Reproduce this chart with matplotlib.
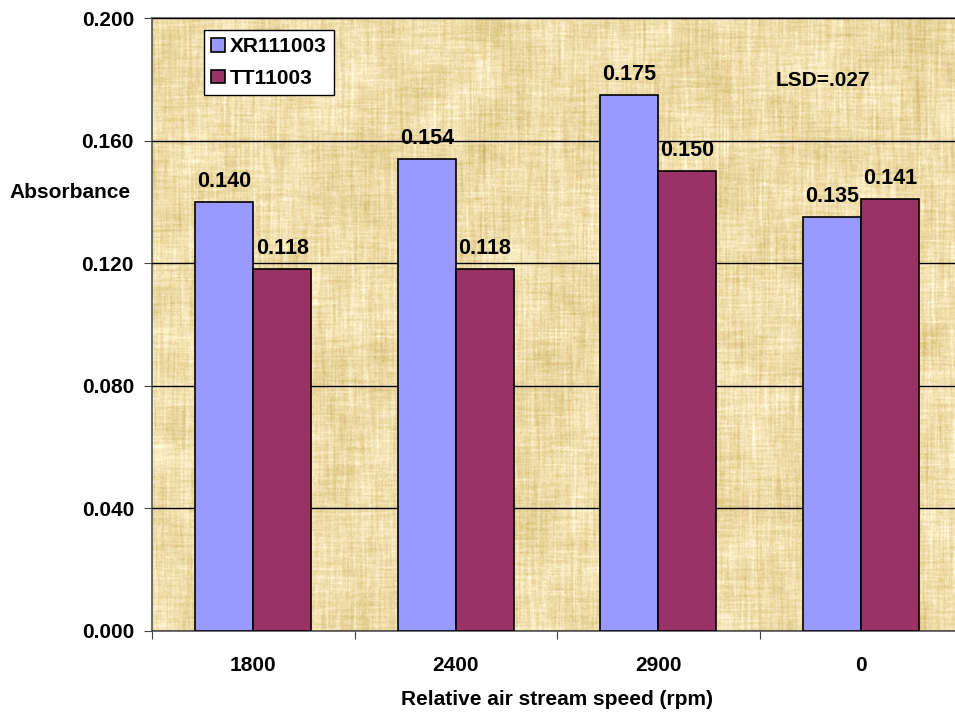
import numpy as np
import matplotlib
matplotlib.use('Agg')
import matplotlib.pyplot as plt

plt.rcParams['font.family'] = ['Liberation Sans', 'DejaVu Sans']
plt.rcParams['font.weight'] = 'bold'

speeds = ['1800', '2400', '2900', '0']
xr_vals = [0.140, 0.154, 0.175, 0.135]
tt_vals = [0.118, 0.118, 0.150, 0.141]
series_names = ['XR111003', 'TT11003']
colors = ['#9999FF', '#993366']


def box_blur(a, ky, kx):
    # separable box blur using cumulative sums (wrapped edges)
    if ky > 1:
        p = np.pad(a, ((ky, ky), (0, 0)), mode='wrap')
        c = np.cumsum(p, axis=0)
        a = (c[ky:-ky] - c[:-2 * ky]) / ky
    if kx > 1:
        p = np.pad(a, ((0, 0), (kx, kx)), mode='wrap')
        c = np.cumsum(p, axis=1)
        a = (c[:, kx:-kx] - c[:, :-2 * kx]) / kx
    return a


def norm(a):
    return (a - a.mean()) / a.std()


def papyrus(h, w, seed=3):
    rng = np.random.default_rng(seed)
    # long vertical fibres, shorter horizontal fibres, fine grain and faint blotches
    vert = norm(box_blur(rng.normal(size=(h, w)), 40, 2))
    horz = norm(box_blur(rng.normal(size=(h, w)), 2, 25))
    grain = norm(box_blur(rng.normal(size=(h, w)), 2, 2))
    blot = norm(box_blur(box_blur(rng.normal(size=(h, w)), 30, 30), 20, 20))
    v = norm(1.0 * vert + 0.8 * horz + 0.5 * grain + 0.7 * blot)
    base = np.array([239, 221, 170]) / 255.0
    dark = np.array([-7, -9, -15]) / 255.0
    img = base[None, None, :] + v[..., None] * dark[None, None, :]
    return np.clip(img, 0, 1)


fig = plt.figure(figsize=(9.55, 7.19), dpi=100)
ax = fig.add_axes([152 / 955, 88 / 719, 810 / 955, 613 / 719])

x = np.arange(len(speeds))
bar_w = 0.286

ax.imshow(papyrus(613, 810), extent=(-0.5, len(speeds) - 0.5, 0, 0.2),
          aspect='auto', zorder=0, interpolation='bilinear')

ax.set_ylim(0, 0.2)
ax.set_xlim(-0.5, len(speeds) - 0.5)
yt = np.arange(0, 0.2001, 0.04)
ax.set_yticks(yt)
ax.set_yticklabels(['%.3f' % t for t in yt], fontsize=15, fontweight='bold')
ax.yaxis.grid(True, color='black', linewidth=1.0, zorder=1)
ax.set_axisbelow(False)

for i, (vals, name) in enumerate(zip([xr_vals, tt_vals], series_names)):
    pos = x + (i - 0.5) * bar_w
    bars = ax.bar(pos, vals, bar_w, color=colors[i], edgecolor='black', linewidth=1.2,
                  label=name, zorder=3)
    for b, v in zip(bars, vals):
        ax.annotate('%.3f' % v, (b.get_x() + b.get_width() / 2, v), xytext=(0, 10.8),
                    textcoords='offset points', ha='center', va='baseline',
                    fontsize=15.5, fontweight='bold', zorder=4)

# category boundaries get the tick marks, labels sit in the middle
ax.set_xticks(np.arange(-0.5, len(speeds)), minor=False)
ax.set_xticklabels([])
ax.set_xticks(x, minor=True)
ax.set_xticklabels(speeds, minor=True, fontsize=15, fontweight='bold')
ax.tick_params(axis='x', which='minor', length=0, pad=18)
ax.tick_params(axis='x', which='major', length=6, color='#444444')
ax.tick_params(axis='y', length=6, color='#444444', pad=7)

for s in ax.spines.values():
    s.set_color('#555555')
    s.set_linewidth(1.2)
ax.spines['right'].set_visible(False)

ax.set_xlabel('Relative air stream speed (rpm)', fontsize=15, fontweight='bold', labelpad=11)
fig.text(70 / 955, 1 - 193 / 719, 'Absorbance', ha='center', va='center',
         fontsize=15, fontweight='bold')
ax.text((823 - 152) / 810, 1 - (81 - 18) / 613, 'LSD=.027',
        transform=ax.transAxes, ha='center', va='center', fontsize=15, fontweight='bold')

leg = ax.legend(loc='upper left', bbox_to_anchor=((204 - 152) / 810, 1 - (30 - 18) / 613),
                fontsize=15, frameon=True, fancybox=False, framealpha=1,
                edgecolor='black', borderpad=0.35, handlelength=0.65, handleheight=0.65,
                handletextpad=0.25, labelspacing=0.6, borderaxespad=0)
leg.get_frame().set_linewidth(1.0)
leg.set_zorder(5)

fig.savefig('out.png', dpi=100)
plt.close(fig)
